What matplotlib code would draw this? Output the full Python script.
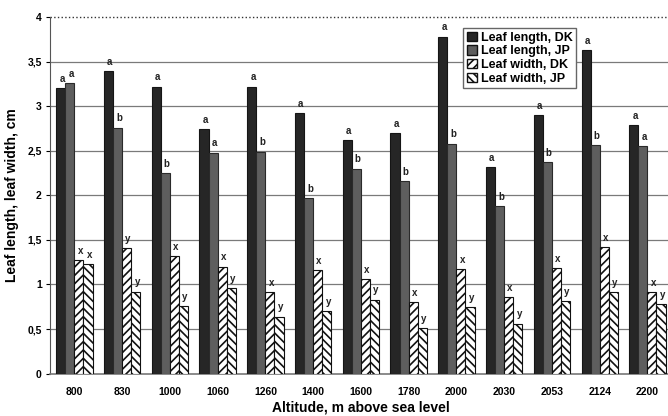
import numpy as np
import matplotlib
matplotlib.use('Agg')
import matplotlib.pyplot as plt
from matplotlib.patches import Patch

altitudes = ['800', '830', '1000', '1060', '1260', '1400', '1600',
             '1780', '2000', '2030', '2053', '2124', '2200']

length_dk = [3.20, 3.39, 3.22, 2.74, 3.22, 2.92, 2.62, 2.70, 3.78, 2.32, 2.90, 3.63, 2.79]
length_jp = [3.26, 2.76, 2.25, 2.48, 2.49, 1.97, 2.30, 2.16, 2.58, 1.88, 2.37, 2.56, 2.55]
width_dk  = [1.27, 1.41, 1.32, 1.20, 0.91, 1.16, 1.06, 0.80, 1.17, 0.86, 1.18, 1.42, 0.91]
width_jp  = [1.23, 0.92, 0.76, 0.96, 0.64, 0.70, 0.83, 0.51, 0.75, 0.56, 0.81, 0.91, 0.78]

letters_len_dk = ['a'] * 13
letters_len_jp = ['a', 'b', 'b', 'a', 'b', 'b', 'b', 'b', 'b', 'b', 'b', 'b', 'a']
letters_wid_dk = ['x', 'y', 'x', 'x', 'x', 'x', 'x', 'x', 'x', 'x', 'x', 'x', 'x']
letters_wid_jp = ['x', 'y', 'y', 'y', 'y', 'y', 'y', 'y', 'y', 'y', 'y', 'y', 'y']

series_labels = ['Leaf length, DK', 'Leaf length, JP', 'Leaf width, DK', 'Leaf width, JP']

plt.rcParams['font.family'] = ['Liberation Sans', 'DejaVu Sans']
plt.rcParams['hatch.linewidth'] = 1.2

fig = plt.figure(figsize=(6.68, 4.16), dpi=100)
# axes runs past the right edge on purpose: the reference is cropped there
ax = fig.add_axes([0.0749, 0.102, 0.930, 0.857])

x = np.arange(len(altitudes))
w = 0.19
styles = [
    dict(color='#262626', edgecolor='#151515'),
    dict(color='#5e5e5e', edgecolor='#2a2a2a'),
    dict(color='white', edgecolor='#111111', hatch='////'),
    dict(color='white', edgecolor='#111111', hatch='\\\\\\\\'),
]
data = [length_dk, length_jp, width_dk, width_jp]
letters = [letters_len_dk, letters_len_jp, letters_wid_dk, letters_wid_jp]

for i, (vals, st, lets) in enumerate(zip(data, styles, letters)):
    pos = x + (i - 1.5) * w
    ax.bar(pos, vals, width=w, linewidth=0.8, zorder=3, **st)
    for px, v, t in zip(pos, vals, lets):
        ax.annotate(t, (px, v), xytext=(1, 3), textcoords='offset points',
                    ha='center', va='bottom', fontsize=7, fontweight='bold',
                    color='#222222', zorder=4)

ax.set_xlim(-0.51, len(altitudes) - 0.5)
ax.set_ylim(0, 4)
ax.set_yticks(np.arange(0, 4.01, 0.5))
ax.set_yticklabels(['0', '0,5', '1', '1,5', '2', '2,5', '3', '3,5', '4'],
                   fontsize=7.5, fontweight='bold')
ax.set_xticks(x)
ax.set_xticklabels(altitudes, fontsize=7.5, fontweight='bold')
ax.tick_params(axis='x', length=0, pad=10)
ax.tick_params(axis='y', length=3, pad=3)

for yv in np.arange(0.5, 3.51, 0.5):
    ax.axhline(yv, color='#7a7a7a', lw=0.9, zorder=1)
ax.axhline(4, color='#333333', lw=1.0, ls=':', zorder=1, clip_on=False)

ax.spines['top'].set_visible(False)
ax.spines['right'].set_visible(False)
ax.spines['left'].set_color('#555555')
ax.spines['bottom'].set_color('#777777')
ax.spines['bottom'].set_linewidth(1.2)

ax.set_xlabel('Altitude, m above sea level', fontsize=10, fontweight='bold', labelpad=2)
ax.set_ylabel('Leaf length, leaf width, cm', fontsize=10, fontweight='bold', labelpad=6)

handles = [Patch(facecolor=st['color'], edgecolor='#111111', hatch=st.get('hatch'),
                 label=lab) for st, lab in zip(styles, series_labels)]
leg = fig.legend(handles=handles, loc='upper left', bbox_to_anchor=(0.684, 0.948),
                 bbox_transform=fig.transFigure, prop={'weight': 'bold', 'size': 9},
                 handlelength=0.8, handleheight=0.8, handletextpad=0.3,
                 labelspacing=0.12, borderpad=0.3, fancybox=False,
                 edgecolor='#666666', framealpha=1)
leg.set_zorder(5)

fig.savefig('out.png', dpi=100)
